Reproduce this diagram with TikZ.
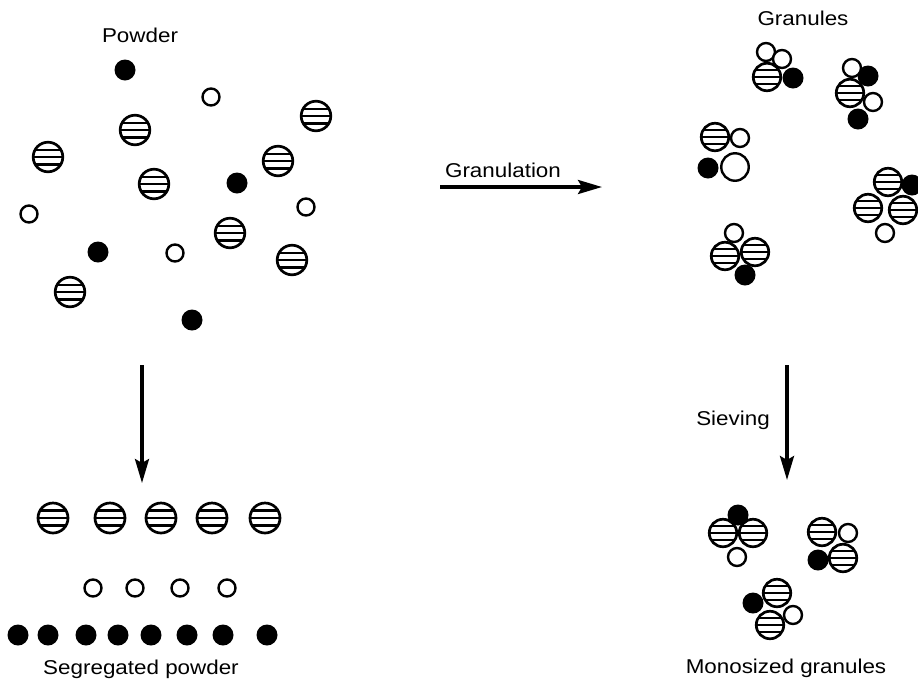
\documentclass[tikz,border=0pt]{standalone}
\usepackage{fontspec}
\setmainfont{Liberation Sans}[FakeStretch=1.12]
\usetikzlibrary{arrows.meta}
\tikzset{
  grain/.style={circle, inner sep=0pt, outer sep=0pt},
  striped/.style={grain, draw, line width=2.7pt, fill=white, minimum size=#1,
    path picture={\foreach \yy in {-0.5,0,0.5}{\draw[line width=2.2pt]
      ([yshift=\yy*#1/2]path picture bounding box.west) --
      ([yshift=\yy*#1/2]path picture bounding box.east);}}},
  striped/.default=27.5pt,
  opengrain/.style={grain, draw, line width=2.4pt, fill=white, minimum size=#1},
  opengrain/.default=17pt,
  solidgrain/.style={grain, fill=black, minimum size=#1},
  solidgrain/.default=21pt,
  lbl/.style={anchor=base, font=\fontsize{20}{24}\selectfont, inner sep=0pt},
  bigarrow/.style={line width=3.4pt, -{Stealth[length=24pt,width=14pt,inset=4pt]}}
}
\begin{document}
\begin{tikzpicture}[x=1pt,y=-1pt]
\useasboundingbox (0,0) rectangle (918,681);
% ---------- Powder ----------
\node[lbl] (tpowder) at (140,42) {Powder};
\foreach \x/\y [count=\i] in {125/70,237/183,98/252,192/320}
  \node[solidgrain] (pb\i) at (\x,\y) {};
\foreach \x/\y [count=\i] in {211/97,29/214,306/207,175/253}
  \node[opengrain] (po\i) at (\x,\y) {};
\foreach \x/\y [count=\i] in {316/116,135/130,48/157,278/161,154/184,230/233,292/260,70/292}
  \node[striped=29.6pt] (ps\i) at (\x,\y) {};
% ---------- Segregated powder ----------
\foreach \x [count=\i] in {53,110,161,212,265}
  \node[striped=30pt] (ss\i) at (\x,518) {};
\foreach \x [count=\i] in {93,135,180,227}
  \node[opengrain] (so\i) at (\x,588) {};
\foreach \x [count=\i] in {18,48,86,118,151,187,223,267}
  \node[solidgrain] (sb\i) at (\x,635) {};
\node[lbl] (tseg) at (141,674) {Segregated powder};
% ---------- arrows ----------
\coordinate (a1s) at (142,365); \coordinate (a1e) at (142,483);
\draw[bigarrow] (a1s) -- (a1e);
\coordinate (a2s) at (440,187); \coordinate (a2e) at (602,187);
\draw[bigarrow] (a2s) -- (a2e);
\node[lbl] (tgran) at (503,177) {Granulation};
\coordinate (a3s) at (787,365); \coordinate (a3e) at (787,480);
\draw[bigarrow] (a3s) -- (a3e);
\node[lbl] (tsiev) at (733,425) {Sieving};
% ---------- Granules ----------
\node[lbl] (tgranules) at (803,25) {Granules};
% cluster A
\node[solidgrain] (ga1) at (793,78) {};
\node[opengrain=18pt] (ga2) at (766,52) {};
\node[opengrain=18pt] (ga3) at (782,59) {};
\node[striped] (ga4) at (767,77) {};
% cluster B
\node[solidgrain] (gb1) at (868,76) {};
\node[opengrain=18pt] (gb2) at (852,68) {};
\node[opengrain=18pt] (gb3) at (873,102) {};
\node[striped] (gb4) at (850,93) {};
\node[solidgrain] (gb5) at (858,119) {};
% cluster C
\node[striped] (gc1) at (715,137) {};
\node[opengrain=18pt] (gc2) at (740,138) {};
\node[solidgrain] (gc3) at (708,168) {};
\node[opengrain=27.5pt] (gc4) at (735,167) {};
% cluster D
\node[opengrain=18pt] (gd1) at (885,233) {};
\node[solidgrain] (gd2) at (912,185) {};
\node[striped] (gd3) at (868,208) {};
\node[striped] (gd4) at (903,210) {};
\node[striped] (gd5) at (888,182) {};
% cluster E
\node[opengrain=18pt] (ge1) at (734,233) {};
\node[striped] (ge2) at (755,252) {};
\node[striped] (ge3) at (725,256) {};
\node[solidgrain] (ge4) at (745,275) {};
% ---------- Monosized granules ----------
% cluster M1
\node[solidgrain] (m11) at (738,515) {};
\node[striped] (m12) at (723,533) {};
\node[striped] (m13) at (753,533) {};
\node[opengrain=18pt] (m14) at (737,557) {};
% cluster M2
\node[opengrain=18pt] (m21) at (848,533) {};
\node[solidgrain] (m22) at (818,560) {};
\node[striped] (m23) at (822,532) {};
\node[striped] (m24) at (843,558) {};
% cluster M3
\node[solidgrain] (m31) at (753,603) {};
\node[opengrain=18pt] (m32) at (793,615) {};
\node[striped] (m33) at (777,593) {};
\node[striped] (m34) at (770,625) {};
\node[lbl] (tmono) at (786,673) {Monosized granules};
\end{tikzpicture}
\end{document}
